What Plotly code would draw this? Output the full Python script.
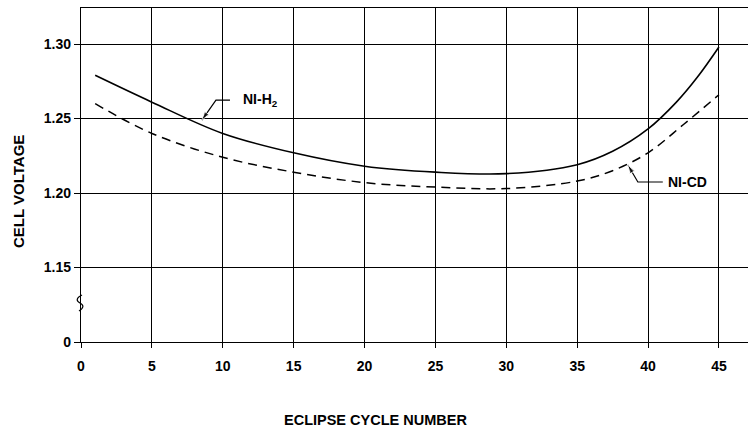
import plotly.graph_objects as go

# Data
cycles_h2 = [1, 5, 10, 15, 20, 25, 30, 35, 37.5, 40, 42, 43.5, 45]
volt_h2 = [1.279, 1.261, 1.240, 1.227, 1.218, 1.214, 1.213, 1.219, 1.228, 1.243, 1.261, 1.278, 1.298]
cycles_cd = [1, 5, 10, 15, 20, 25, 30, 35, 37.5, 40, 42.5, 45]
volt_cd = [1.260, 1.240, 1.224, 1.214, 1.207, 1.204, 1.203, 1.208, 1.215, 1.227, 1.246, 1.266]

# y axis has a break: "0" is drawn one grid step below 1.15
y_tickvals = [1.10, 1.15, 1.20, 1.25, 1.30]
y_ticktext = ["0", "1.15", "1.20", "1.25", "1.30"]
x_tickvals = [0, 5, 10, 15, 20, 25, 30, 35, 40, 45]

FONT = "Liberation Sans, Arial, Helvetica, sans-serif"

fig = go.Figure()
fig.add_trace(go.Scatter(x=cycles_h2, y=volt_h2, mode="lines",
                         line=dict(color="black", width=1.6, shape="spline", smoothing=1.0),
                         name="NI-H2", showlegend=False, hoverinfo="skip"))
fig.add_trace(go.Scatter(x=cycles_cd, y=volt_cd, mode="lines",
                         line=dict(color="black", width=1.5, shape="spline", smoothing=1.0,
                                   dash="9px,6px"),
                         name="NI-CD", showlegend=False, hoverinfo="skip"))

# leader lines (label end -> bend -> arrow tip)
leaders = [
    ([10.51, 9.52, 8.53], [1.2624, 1.2624, 1.249]),
    ([41.04, 39.28, 38.58], [1.2074, 1.2074, 1.2188]),
]
for lx, ly in leaders:
    fig.add_trace(go.Scatter(x=lx, y=ly, mode="lines+markers",
                             line=dict(color="black", width=1.2),
                             marker=dict(symbol="arrow", size=[0, 0, 9], color="black",
                                         angleref="previous"),
                             showlegend=False, hoverinfo="skip"))

fig.add_annotation(x=11.3, y=1.2624, text="NI-H<sub>2</sub>", showarrow=False,
                   xanchor="left", yanchor="middle",
                   font=dict(family=FONT, size=14, color="black", weight="bold"))
fig.add_annotation(x=41.3, y=1.2074, text="NI-CD", showarrow=False,
                   xanchor="left", yanchor="middle",
                   font=dict(family=FONT, size=14, color="black", weight="bold"))

# axis break symbol (paper-referenced so it is not clipped)
fig.add_shape(type="path", xref="paper", yref="paper", xsizemode="pixel", ysizemode="pixel",
              xanchor=0, yanchor=0.117,
              path="M 1,8 C -5,5 -5,2 -1,0 C 3,-2 3,-5 -2,-8",
              line=dict(color="black", width=1.2))

# axis titles
fig.add_annotation(xref="paper", yref="paper", x=-0.094, y=0.45, text="CELL VOLTAGE",
                   textangle=-90, showarrow=False, xanchor="center", yanchor="middle",
                   font=dict(family=FONT, size=15, color="black", weight="bold"))
fig.add_annotation(xref="paper", yref="paper", x=0.441, y=-0.235, text="ECLIPSE CYCLE NUMBER",
                   showarrow=False, xanchor="center", yanchor="middle",
                   font=dict(family=FONT, size=14.5, color="black", weight="bold"))

fig.update_xaxes(range=[0, 47.05], tickvals=x_tickvals, showgrid=True,
                 gridcolor="black", gridwidth=1.2, showline=True, mirror=True,
                 linecolor="black", linewidth=1.4, ticks="outside", ticklen=5,
                 tickcolor="black", tickwidth=1.2, zeroline=False, ticklabelstandoff=6,
                 tickfont=dict(family=FONT, size=14, color="black", weight="bold"))
fig.update_yaxes(range=[1.10, 1.3242], tickvals=y_tickvals, ticktext=y_ticktext,
                 showgrid=True, gridcolor="black", gridwidth=1.2, showline=True,
                 linecolor="black", linewidth=1.4, ticks="outside", ticklen=6,
                 tickcolor="black", tickwidth=1.2, zeroline=False,
                 tickfont=dict(family=FONT, size=14, color="black", weight="bold"))

fig.update_layout(width=748, height=429, margin=dict(l=81, r=0, t=8, b=87),
                  plot_bgcolor="white", paper_bgcolor="white", showlegend=False)

fig.write_html("out.html", config={"displayModeBar": False},
               post_script="document.body.style.margin='0';document.body.style.overflow='hidden';")
